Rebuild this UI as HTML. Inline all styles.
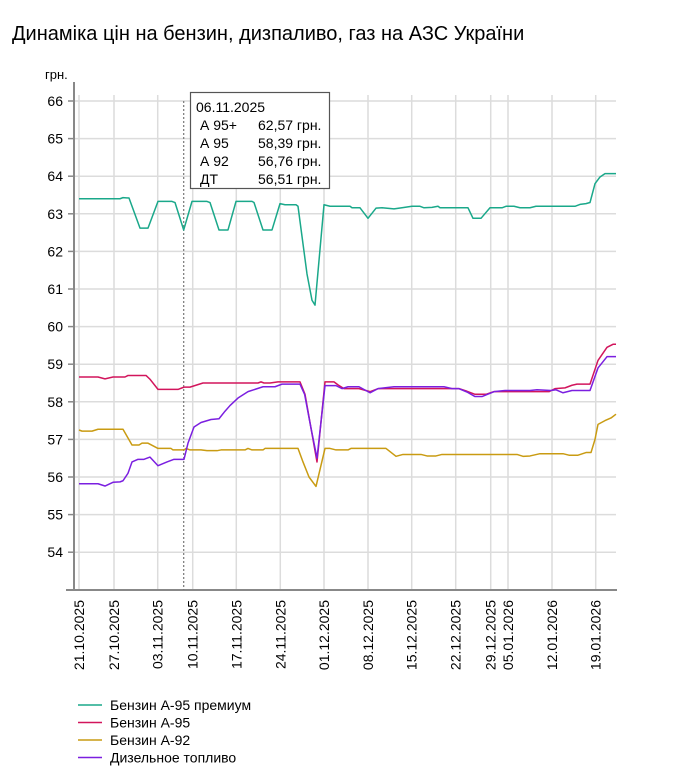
<!DOCTYPE html>
<html><head><meta charset="utf-8"><style>
body{margin:0;background:#fff;}
svg{display:block;font-family:"Liberation Sans",Arial,sans-serif;}
</style></head><body>
<svg width="700" height="783" viewBox="0 0 700 783">
<text x="12" y="40" font-size="20" fill="#000">Динаміка цін на бензин, дизпаливо, газ на АЗС України</text>
<text x="45" y="79" font-size="13" fill="#000">грн.</text>
<g stroke="#dcdcdc" stroke-width="1.5">
<line x1="74" x2="616" y1="101" y2="101"/><line x1="74" x2="616" y1="138.6" y2="138.6"/><line x1="74" x2="616" y1="176.2" y2="176.2"/><line x1="74" x2="616" y1="213.8" y2="213.8"/><line x1="74" x2="616" y1="251.4" y2="251.4"/><line x1="74" x2="616" y1="289" y2="289"/><line x1="74" x2="616" y1="326.6" y2="326.6"/><line x1="74" x2="616" y1="364.2" y2="364.2"/><line x1="74" x2="616" y1="401.8" y2="401.8"/><line x1="74" x2="616" y1="439.4" y2="439.4"/><line x1="74" x2="616" y1="477" y2="477"/><line x1="74" x2="616" y1="514.6" y2="514.6"/><line x1="74" x2="616" y1="552.2" y2="552.2"/>
<line x1="79" x2="79" y1="95" y2="590"/><line x1="114" x2="114" y1="95" y2="590"/><line x1="157.7" x2="157.7" y1="95" y2="590"/><line x1="192.7" x2="192.7" y1="95" y2="590"/><line x1="236.3" x2="236.3" y1="95" y2="590"/><line x1="280.3" x2="280.3" y1="95" y2="590"/><line x1="324" x2="324" y1="95" y2="590"/><line x1="368" x2="368" y1="95" y2="590"/><line x1="411.7" x2="411.7" y1="95" y2="590"/><line x1="455.7" x2="455.7" y1="95" y2="590"/><line x1="490.7" x2="490.7" y1="95" y2="590"/><line x1="508" x2="508" y1="95" y2="590"/><line x1="552" x2="552" y1="95" y2="590"/><line x1="595.7" x2="595.7" y1="95" y2="590"/>
</g>
<g stroke="#888" stroke-width="2"><line x1="74" x2="74" y1="82" y2="591"/><line x1="66" x2="617" y1="590" y2="590"/></g>
<g stroke="#888" stroke-width="1.5">
<line x1="68" x2="74" y1="101" y2="101"/><line x1="68" x2="74" y1="138.6" y2="138.6"/><line x1="68" x2="74" y1="176.2" y2="176.2"/><line x1="68" x2="74" y1="213.8" y2="213.8"/><line x1="68" x2="74" y1="251.4" y2="251.4"/><line x1="68" x2="74" y1="289" y2="289"/><line x1="68" x2="74" y1="326.6" y2="326.6"/><line x1="68" x2="74" y1="364.2" y2="364.2"/><line x1="68" x2="74" y1="401.8" y2="401.8"/><line x1="68" x2="74" y1="439.4" y2="439.4"/><line x1="68" x2="74" y1="477" y2="477"/><line x1="68" x2="74" y1="514.6" y2="514.6"/><line x1="68" x2="74" y1="552.2" y2="552.2"/>
</g>
<g font-size="14" fill="#000" text-anchor="end">
<text x="63" y="106">66</text><text x="63" y="143.6">65</text><text x="63" y="181.2">64</text><text x="63" y="218.8">63</text><text x="63" y="256.4">62</text><text x="63" y="294">61</text><text x="63" y="331.6">60</text><text x="63" y="369.2">59</text><text x="63" y="406.8">58</text><text x="63" y="444.4">57</text><text x="63" y="482">56</text><text x="63" y="519.6">55</text><text x="63" y="557.2">54</text>
</g>
<g font-size="14" fill="#000" text-anchor="end">
<text transform="translate(84,600) rotate(-90)">21.10.2025</text>
<text transform="translate(119,600) rotate(-90)">27.10.2025</text>
<text transform="translate(162.7,600) rotate(-90)">03.11.2025</text>
<text transform="translate(197.7,600) rotate(-90)">10.11.2025</text>
<text transform="translate(241.3,600) rotate(-90)">17.11.2025</text>
<text transform="translate(285.3,600) rotate(-90)">24.11.2025</text>
<text transform="translate(329,600) rotate(-90)">01.12.2025</text>
<text transform="translate(373,600) rotate(-90)">08.12.2025</text>
<text transform="translate(416.7,600) rotate(-90)">15.12.2025</text>
<text transform="translate(460.7,600) rotate(-90)">22.12.2025</text>
<text transform="translate(495.7,600) rotate(-90)">29.12.2025</text>
<text transform="translate(513,600) rotate(-90)">05.01.2026</text>
<text transform="translate(557,600) rotate(-90)">12.01.2026</text>
<text transform="translate(600.7,600) rotate(-90)">19.01.2026</text>
</g>
<line x1="183.7" x2="183.7" y1="101" y2="590" stroke="#777" stroke-width="1.2" stroke-dasharray="2,2"/>
<g fill="none" stroke-width="1.5" stroke-linejoin="round" transform="matrix(1 0 0 -37.6 0 2582.6)">
<polyline vector-effect="non-scaling-stroke" stroke="#1aa88a" points="79,63.4 120,63.4 123,63.43 129,63.42 140,62.62 148,62.62 158,63.33 172,63.33 175,63.3 183.7,62.57 192,63.33 207,63.33 210,63.3 219,62.57 228,62.57 236,63.33 252,63.33 254,63.3 263,62.57 272,62.57 280,63.27 285,63.24 296,63.24 298,63.2 302,62.4 307,61.4 312,60.7 315,60.57 324,63.24 330,63.2 350,63.2 352,63.16 360,63.16 368,62.88 376,63.15 382,63.16 394,63.13 402,63.16 412,63.2 420,63.2 424,63.16 432,63.17 438,63.2 440,63.16 468,63.16 473,62.88 481,62.88 490,63.16 502,63.16 506,63.2 514,63.2 520,63.16 530,63.16 536,63.2 575,63.2 580,63.25 586,63.27 590,63.3 595,63.8 600,63.98 605,64.07 616,64.07"/>
<polyline vector-effect="non-scaling-stroke" stroke="#d2155c" points="79,58.66 98,58.66 105,58.61 113,58.66 125,58.66 128,58.7 146,58.7 150,58.6 158,58.33 178,58.33 184,58.39 190,58.39 203,58.5 258,58.5 261,58.53 264,58.5 270,58.5 278,58.53 300,58.53 305,58.2 311,57.3 317,56.4 325,58.53 334,58.53 338,58.45 344,58.35 359,58.35 370,58.27 378,58.35 459,58.35 467,58.28 475,58.2 486,58.2 494,58.27 544,58.27 549,58.27 555,58.35 565,58.37 572,58.44 577,58.47 590,58.47 598,59.1 607,59.45 613,59.53 616,59.53"/>
<polyline vector-effect="non-scaling-stroke" stroke="#c99b12" points="79,57.25 82,57.22 92,57.22 98,57.27 123,57.27 132,56.85 139,56.85 142,56.9 148,56.9 158,56.76 171,56.76 173,56.72 184,56.72 186,56.76 190,56.72 201,56.72 207,56.7 217,56.7 221,56.72 245,56.72 248,56.76 252,56.72 263,56.72 265,56.76 298,56.76 303,56.4 309,56 316,55.75 325,56.76 330,56.76 336,56.72 348,56.72 351,56.76 386,56.76 396,56.55 403,56.6 421,56.6 427,56.56 436,56.56 442,56.6 517,56.6 523,56.55 530,56.56 540,56.62 563,56.62 569,56.58 578,56.58 586,56.65 591,56.65 595,57 598,57.4 605,57.5 611,57.57 616,57.67"/>
<polyline vector-effect="non-scaling-stroke" stroke="#7b1fe0" points="79,55.82 98,55.82 105,55.76 113,55.86 120,55.87 123,55.9 128,56.1 132,56.4 138,56.47 144,56.47 150,56.53 158,56.3 167,56.4 174,56.47 184,56.47 188,56.9 194,57.33 201,57.45 211,57.53 219,57.55 225,57.75 230,57.9 238,58.1 248,58.27 263,58.4 275,58.4 282,58.47 300,58.47 304.6,58.2 311,57.3 317,56.5 325,58.43 336,58.43 342,58.35 348,58.4 359,58.4 370,58.24 378,58.35 394,58.4 444,58.4 452,58.35 459,58.35 467,58.26 475,58.14 482,58.14 494,58.27 505,58.3 530,58.3 537,58.32 551,58.3 556,58.32 563,58.24 572,58.3 590,58.3 598,58.9 607,59.2 616,59.2"/>
</g>
<rect x="190.5" y="92.5" width="139" height="96" fill="#fff" stroke="#555" stroke-width="1.2"/>
<g font-size="14" fill="#000">
<text x="196" y="112">06.11.2025</text>
<text x="200" y="130">А 95+</text><text x="258" y="130">62,57 грн.</text>
<text x="200" y="148">А 95</text><text x="258" y="148">58,39 грн.</text>
<text x="200" y="166">А 92</text><text x="258" y="166">56,76 грн.</text>
<text x="200" y="184">ДТ</text><text x="258" y="184">56,51 грн.</text>
</g>
<g stroke-width="1.5">
<line x1="78" x2="102" y1="705" y2="705" stroke="#1aa88a"/>
<line x1="78" x2="102" y1="722.5" y2="722.5" stroke="#d2155c"/>
<line x1="78" x2="102" y1="740" y2="740" stroke="#c99b12"/>
<line x1="78" x2="102" y1="757.5" y2="757.5" stroke="#7b1fe0"/>
</g>
<g font-size="14" fill="#000">
<text x="110" y="710">Бензин А-95 премиум</text>
<text x="110" y="727.5">Бензин А-95</text>
<text x="110" y="745">Бензин А-92</text>
<text x="110" y="762.5">Дизельное топливо</text>
</g>
</svg>
</body></html>
